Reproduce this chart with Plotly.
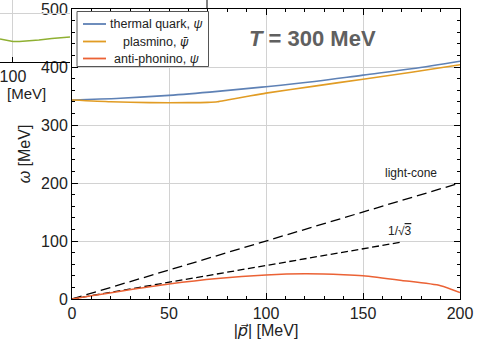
import plotly.graph_objects as go
import numpy as np

# --- data ---
p_blue = [0, 25, 50, 75, 100, 125, 150, 175, 200]
w_blue = [343, 346, 351, 358, 366, 375, 386, 397, 410]

p_orange = [0, 20, 40, 60, 70, 75, 80, 90, 100, 125, 150, 175, 200]
w_orange = [343, 340, 338.5, 338.5, 339, 340, 343, 349, 355, 367, 379, 391, 404]

p_red = [0, 10, 25, 50, 75, 100, 120, 140, 150, 170, 190, 200]
w_red = [0, 5.5, 13.5, 26, 35.5, 41.5, 43.5, 42, 40, 32, 23, 11]

p_lc = [0, 200]
w_lc = [0, 200]

p_s3 = [0, 170]
w_s3 = [0, 170 / np.sqrt(3)]

legend_labels = ["thermal quark, <i>ψ</i>",
                 "plasmino, <span style=\"font-family:'DejaVu Sans'\"><i>ψ\u0304</i></span>",
                 "anti-phonino, <i>ψ</i>"]

# fragment of a neighbouring panel (top-left corner)
frag_x = [80, 90, 100, 110, 120, 140, 160, 188]
frag_y = [37, 35.5, 33, 33, 33.5, 35.5, 38, 40.5]

W, H = 483, 340
L, R, T, B = 72, 460, 9, 299

BLUE = "#5E81B5"
ORANGE = "#E19C24"
RED = "#EB6235"
GREEN = "#8FB032"
FONT = "Liberation Sans, Arial, sans-serif"
DV = "font-family:'DejaVu Sans'"

fig = go.Figure()

fig.add_trace(go.Scatter(x=frag_x, y=frag_y, mode="lines", xaxis="x2", yaxis="y2",
                         line=dict(color=GREEN, width=1.5), showlegend=False))

fig.add_trace(go.Scatter(x=p_lc, y=w_lc, mode="lines", showlegend=False,
                         line=dict(color="black", width=1.3, dash="10px,5px")))
fig.add_trace(go.Scatter(x=p_s3, y=w_s3, mode="lines", showlegend=False,
                         line=dict(color="black", width=1.3, dash="7px,3.5px")))

fig.add_trace(go.Scatter(x=p_blue, y=w_blue, mode="lines", showlegend=False,
                         line=dict(color=BLUE, width=1.6, shape="spline")))
fig.add_trace(go.Scatter(x=p_orange, y=w_orange, mode="lines", showlegend=False,
                         line=dict(color=ORANGE, width=1.6, shape="spline", smoothing=0.6)))
fig.add_trace(go.Scatter(x=p_red, y=w_red, mode="lines", showlegend=False,
                         line=dict(color=RED, width=1.5, shape="spline", smoothing=0.6)))

axis_common = dict(
    showline=True, linecolor="black", linewidth=1, mirror="ticks",
    ticks="inside", ticklen=6, tickcolor="black", tickwidth=1,
    showgrid=True, gridcolor="#d2d2d2", gridwidth=1, zeroline=False,
    tickfont=dict(family=FONT, size=16, color="#222"), automargin=False,
)

# manual legend box (pixel layout of the reference)
def px(x):
    return x / W

def py(y):
    return 1 - y / H

leg_rows = [24, 41.5, 58.5]
leg_colors = [BLUE, ORANGE, RED]
shapes = [
    dict(type="line", xref="paper", yref="paper", x0=px(207), x1=px(207),
         y0=1, y1=py(T), line=dict(color="black", width=1)),
    dict(type="rect", xref="paper", yref="paper", x0=px(77), x1=px(208.5),
         y0=py(11.5), y1=py(66.5), fillcolor="white", line=dict(color="#555", width=1),
         layer="above"),
]
annotations = []
for yy, col, lab in zip(leg_rows, leg_colors, legend_labels):
    shapes.append(dict(type="line", xref="paper", yref="paper", x0=px(83), x1=px(106),
                       y0=py(yy), y1=py(yy), line=dict(color=col, width=1.8), layer="above"))
    annotations.append(dict(x=px(156), y=py(yy), xref="paper", yref="paper", text=lab,
                            xanchor="center", yanchor="middle", showarrow=False,
                            font=dict(family=FONT, size=12.5, color="#222")))

annotations += [
    dict(x=124, y=450, xref="x", yref="y", text="<b><i>T</i> = 300 MeV</b>",
         showarrow=False, font=dict(family=FONT, size=22, color="#606060")),
    dict(x=174.5, y=218, xref="x", yref="y", text="light-cone",
         showarrow=False, font=dict(family=FONT, size=12, color="#222")),
    dict(x=169, y=117, xref="x", yref="y",
         text="1/√<span style=\"text-decoration:overline\">3</span>",
         showarrow=False, font=dict(family=FONT, size=12, color="#222")),
    dict(x=px(5), y=py(93), xref="paper", yref="paper", text="[MeV]",
         xanchor="left", yanchor="middle",
         showarrow=False, font=dict(family=FONT, size=15, color="#222")),
]

fig.update_layout(
    width=W, height=H, margin=dict(l=0, r=0, t=0, b=0, autoexpand=False),
    paper_bgcolor="white", plot_bgcolor="white",
    font=dict(family=FONT, color="#222"),
    showlegend=False,
    xaxis=dict(domain=[L / W, R / W], range=[0, 200], dtick=50,
               minor=dict(dtick=10, ticks="inside", ticklen=3, tickcolor="black", showgrid=False),
               title=dict(text=f"|<span style=\"{DV}\"><i>p\u20d7</i></span>| [MeV]",
                          font=dict(family=FONT, size=16), standoff=2),
               **axis_common),
    yaxis=dict(domain=[1 - B / H, 1 - T / H], range=[0, 500], dtick=100,
               minor=dict(dtick=20, ticks="inside", ticklen=3, tickcolor="black", showgrid=False),
               title=dict(text="<i>ω</i> [MeV]", font=dict(family=FONT, size=16), standoff=6),
               **axis_common),
    xaxis2=dict(domain=[0, 70 / W], range=[80, 188], anchor="y2", tickvals=[100],
                showline=True, linecolor="black", linewidth=1, ticks="inside", ticklen=5,
                tickcolor="black", showgrid=True, gridcolor="#d2d2d2", zeroline=False,
                ticklabeloverflow="allow",
                automargin=False, tickfont=dict(family=FONT, size=16, color="#222")),
    yaxis2=dict(domain=[1 - 62 / H, 1], range=[0, 100], anchor="x2", tickvals=[79],
                showticklabels=False, showline=False, ticks="", showgrid=True,
                automargin=False, gridcolor="#d2d2d2", zeroline=False),
    annotations=annotations,
    shapes=shapes,
)

fig.write_html("out.html")
